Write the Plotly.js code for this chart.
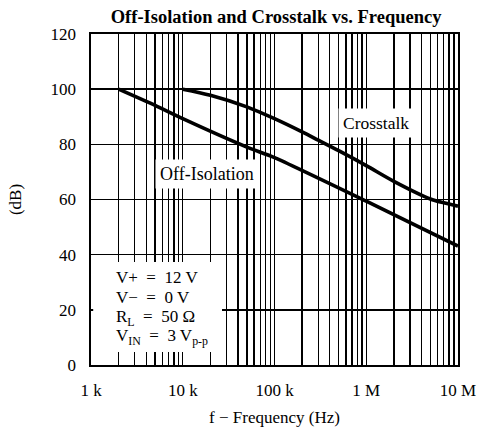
<!DOCTYPE html>
<html>
<head>
<meta charset="utf-8">
<script src="https://cdn.plot.ly/plotly-3.0.1.min.js"></script>
<style>html,body{margin:0;padding:0;background:#fff;}#chart{width:481px;height:428px;}</style>
</head>
<body>
<div id="chart"></div>
<script>
// Data
const offIsolationFreq = [2e3, 5e3, 1e4, 5e4, 1e5, 1e6, 1e7];
const offIsolationDb   = [100, 94.1, 89.3, 79.0, 75.2, 59.4, 43.1];

const crosstalkFreq = [1e4, 2e4, 5e4, 1e5, 2e5, 3e5, 5e5, 1e6, 2e6, 5e6, 7e6, 1e7];
const crosstalkDb   = [100, 97.8, 93.6, 89.3, 84.5, 81.5, 77.7, 72.3, 66.6, 60.2, 58.8, 57.6];

const xTickVals = [1e3, 1e4, 1e5, 1e6, 1e7];
const xTickText = ['1 k', '10 k', '100 k', '1 M', '10 M'];
const yTickVals = [0, 20, 40, 60, 80, 100, 120];

const conditionLines = [
  'V+  =  12 V',
  'V\u2212  =  0 V',
  'R<sub>L</sub>  =  50 \u03A9',
  'V<sub>IN</sub>  =  3 V<sub>p-p</sub>'
];

// minor grid positions (2..9 within each decade)
const minorVals = [];
for (let d = 3; d < 7; d++) {
  for (let m = 2; m <= 9; m++) minorVals.push(m * Math.pow(10, d));
}

const FONT = 'Liberation Serif, Times New Roman, serif';

const traces = [
  {x: offIsolationFreq, y: offIsolationDb, mode: 'lines', type: 'scatter',
   line: {color: '#000', width: 3.6, shape: 'spline', smoothing: 0.6}, hoverinfo: 'skip'},
  {x: crosstalkFreq, y: crosstalkDb, mode: 'lines', type: 'scatter',
   line: {color: '#000', width: 3.6, shape: 'spline', smoothing: 0.8}, hoverinfo: 'skip'}
];

const lineYs = [0.263, 0.203, 0.143, 0.086];
const annotations = conditionLines.map((t, i) => ({
  text: t, xref: 'paper', yref: 'paper', x: 0.062, y: lineYs[i],
  xanchor: 'left', yanchor: 'middle', showarrow: false,
  font: {family: FONT, size: 17, color: '#000'}
}));
annotations.push({
  text: 'Crosstalk', xref: 'paper', yref: 'paper', x: 0.776, y: 0.73,
  xanchor: 'center', yanchor: 'middle', showarrow: false, bgcolor: '#fff', borderpad: 4,
  font: {family: FONT, size: 17.5, color: '#000'}
});
annotations.push({
  text: 'Off-Isolation', xref: 'paper', yref: 'paper', x: 0.315, y: 0.577,
  xanchor: 'center', yanchor: 'middle', showarrow: false, bgcolor: '#fff', borderpad: 4,
  font: {family: FONT, size: 18, color: '#000'}
});

const layout = {
  width: 481, height: 428,
  margin: {l: 91, r: 23, t: 34, b: 63, pad: 0},
  paper_bgcolor: '#fff', plot_bgcolor: '#fff',
  showlegend: false,
  font: {family: FONT, size: 17, color: '#000'},
  title: {text: '<b>Off-Isolation and Crosstalk vs. Frequency</b>',
          x: 0.574, xanchor: 'center', y: 0.962, yanchor: 'middle',
          font: {family: FONT, size: 18.5, color: '#000'}},
  xaxis: {
    type: 'log', range: [3, 7], tickmode: 'array', tickvals: xTickVals, ticktext: xTickText,
    showgrid: true, gridcolor: '#000', gridwidth: 1.4,
    showline: true, linecolor: '#000', linewidth: 1.6, mirror: true,
    ticks: '', ticklabelstandoff: 9, zeroline: false,
    minor: {tickmode: 'array', tickvals: minorVals, showgrid: true, gridcolor: '#000', gridwidth: 1.4, ticks: ''},
    title: {text: 'f \u2212 Frequency (Hz)', standoff: 12, font: {family: FONT, size: 17, color: '#000'}},
    tickfont: {family: FONT, size: 17, color: '#000'}
  },
  yaxis: {
    range: [0, 120], tickmode: 'array', tickvals: yTickVals,
    showgrid: true, gridcolor: '#000', gridwidth: 1.4,
    showline: true, linecolor: '#000', linewidth: 1.6, mirror: true,
    ticks: '', ticklabelstandoff: 10, zeroline: false,
    title: {text: '(dB)', standoff: 24, font: {family: FONT, size: 17, color: '#000'}},
    tickfont: {family: FONT, size: 17, color: '#000'}
  },
  shapes: [{
    type: 'rect', xref: 'paper', yref: 'paper', x0: 0.006, x1: 0.357, y0: 0.039, y1: 0.311,
    fillcolor: '#fff', line: {width: 0}, layer: 'above'
  }],
  annotations: annotations
};

Plotly.newPlot('chart', traces, layout, {displayModeBar: false, staticPlot: true});
</script>
</body>
</html>
